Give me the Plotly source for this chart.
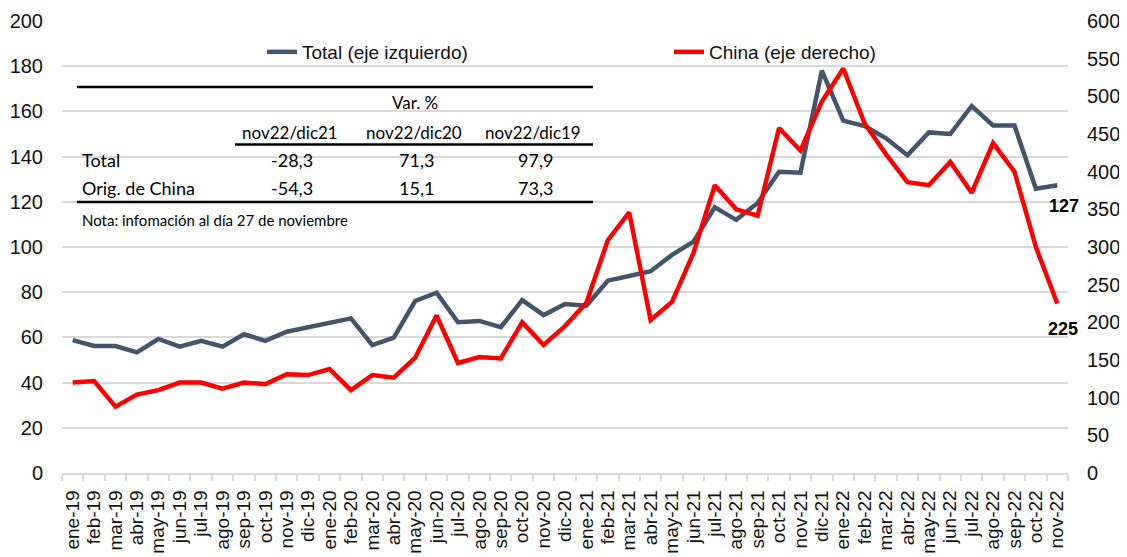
import plotly.graph_objects as go

months = ["ene-19","feb-19","mar-19","abr-19","may-19","jun-19","jul-19","ago-19","sep-19","oct-19","nov-19","dic-19",
          "ene-20","feb-20","mar-20","abr-20","may-20","jun-20","jul-20","ago-20","sep-20","oct-20","nov-20","dic-20",
          "ene-21","feb-21","mar-21","abr-21","may-21","jun-21","jul-21","ago-21","sep-21","oct-21","nov-21","dic-21",
          "ene-22","feb-22","mar-22","abr-22","may-22","jun-22","jul-22","ago-22","sep-22","oct-22","nov-22"]

total = [58.8, 56.2, 56.2, 53.4, 59.3, 55.9, 58.5, 55.9, 61.4, 58.5, 62.5, 64.4,
         66.5, 68.4, 56.6, 59.9, 76.1, 79.8, 66.7, 67.3, 64.5, 76.5, 69.9, 74.8,
         74.0, 85.1, 87.2, 89.3, 96.5, 102.4, 117.6, 112.0, 119.5, 133.3, 132.9, 178.0,
         155.9, 153.5, 148.1, 140.6, 150.7, 150.0, 162.4, 153.8, 153.8, 125.8, 127.3]

china = [120, 122, 88, 104, 110, 120, 120, 112, 120, 118, 131, 130,
         138, 110, 130, 126.5, 153, 209, 146, 154, 152, 200, 170, 195,
         226, 309, 346, 203, 227, 292, 382, 350, 341.5, 458, 428, 493,
         537, 464, 423, 386, 382, 413, 372, 438, 400, 300, 225]

total_name = "Total (eje izquierdo)"
china_name = "China (eje derecho)"

table_cols = ["nov22/dic21", "nov22/dic20", "nov22/dic19"]
table_rows = ["Total", "Orig. de China"]
table_vals = [["-28,3", "71,3", "97,9"], ["-54,3", "15,1", "73,3"]]
table_title = "Var. %"
note = "Nota: infomación al día 27 de noviembre"

# page body has an 8px margin: build the figure 8px smaller and offset everything
OFF = 8
W, H = 1127 - OFF, 557 - OFF
L, R, T, B = 62 - OFF, 1068 - OFF, 21 - OFF, 473 - OFF

def px(x):
    # x given in reference (window) pixels
    return (x - OFF - L) / (R - L)

def py(y):
    return (B - (y - OFF)) / (B - T)

TOTAL_COLOR = "#44546A"
CHINA_COLOR = "#FF0000"
GRID = "#D9D9D9"
AX_FONT = "Liberation Sans, Arial, sans-serif"
TB_FONT = "Lato, Carlito, Calibri, sans-serif"

fig = go.Figure()
fig.add_trace(go.Scatter(x=months, y=total, name=total_name, mode="lines",
                         line=dict(color=TOTAL_COLOR, width=4.5), yaxis="y"))
fig.add_trace(go.Scatter(x=months, y=china, name=china_name, mode="lines",
                         line=dict(color=CHINA_COLOR, width=4.5), yaxis="y2"))

shapes = []
# white table background covering gridlines
shapes.append(dict(type="rect", xref="paper", yref="paper", x0=px(77), x1=px(593), y0=py(232), y1=py(76),
                   fillcolor="white", line=dict(width=0), layer="between"))
# table rules
shapes.append(dict(type="line", xref="paper", yref="paper", x0=px(77), x1=px(593), y0=py(87), y1=py(87),
                   line=dict(color="black", width=2.5)))
shapes.append(dict(type="line", xref="paper", yref="paper", x0=px(235), x1=px(593), y0=py(144.5), y1=py(144.5),
                   line=dict(color="black", width=2.5)))
shapes.append(dict(type="line", xref="paper", yref="paper", x0=px(77), x1=px(593), y0=py(202), y1=py(202),
                   line=dict(color="black", width=2.5)))

ann = []
tfont = dict(family=TB_FONT, size=17, color="black")
ann.append(dict(text=table_title, x=px(415), y=py(103), xref="paper", yref="paper", showarrow=False,
                xanchor="center", yanchor="middle", font=tfont))
col_x = [290, 414, 533]
for cx, c in zip(col_x, table_cols):
    ann.append(dict(text=c, x=px(cx), y=py(132), xref="paper", yref="paper", showarrow=False,
                    xanchor="center", yanchor="middle", font=tfont))
row_y = [160, 188]
for ry, rname, vals in zip(row_y, table_rows, table_vals):
    ann.append(dict(text=rname, x=px(80), y=py(ry), xref="paper", yref="paper", showarrow=False,
                    xanchor="left", yanchor="middle", font=dict(family=TB_FONT, size=18, color="black")))
    for cx, v in zip(col_x, vals):
        ann.append(dict(text=v, x=px(cx + 2), y=py(ry), xref="paper", yref="paper", showarrow=False,
                        xanchor="center", yanchor="middle", font=dict(family=TB_FONT, size=18, color="black")))
ann.append(dict(text=note, x=px(80), y=py(220), xref="paper", yref="paper", showarrow=False,
                xanchor="left", yanchor="middle", font=dict(family=TB_FONT, size=15, color="black")))

# end labels
ann.append(dict(text="<b>%d</b>" % round(total[-1]), x=months[-1], y=total[-1], xref="x", yref="y",
                showarrow=False, xshift=7, yshift=-21,
                font=dict(family=AX_FONT, size=18, color="black")))
ann.append(dict(text="<b>%d</b>" % round(china[-1]), x=months[-1], y=china[-1], xref="x", yref="y2",
                showarrow=False, xshift=6, yshift=-25,
                font=dict(family=AX_FONT, size=18, color="black")))

fig.update_layout(
    width=W, height=H,
    margin=dict(l=L, r=W - R, t=T, b=H - B, pad=0, autoexpand=False),
    paper_bgcolor="white", plot_bgcolor="white",
    showlegend=True,
    legend=dict(orientation="h", x=px(262), y=py(52), xanchor="left", yanchor="middle",
                bgcolor="rgba(0,0,0,0)", font=dict(family=AX_FONT, size=19, color="#111"),
                entrywidthmode="pixels", entrywidth=362, itemwidth=30, tracegroupgap=0),
    xaxis=dict(type="category", categoryorder="array", categoryarray=months,
               tickmode="array", tickvals=months, ticktext=months, automargin=False,
               tickangle=-90, tickfont=dict(family=AX_FONT, size=19, color="#111"),
               showgrid=False, showline=True, linecolor=GRID, linewidth=1.5,
               ticks="outside", tickson="boundaries", ticklen=6, tickcolor=GRID, tickwidth=1.5,
               ticklabelstandoff=8, range=[-0.5, len(months) - 0.5]),
    yaxis=dict(range=[0, 200], dtick=20, showgrid=True, gridcolor=GRID, gridwidth=1.5,
               zeroline=False, showline=False, ticks="", automargin=False,
               tickfont=dict(family=AX_FONT, size=20, color="#111"), ticklabelstandoff=18),
    yaxis2=dict(range=[0, 600], dtick=50, overlaying="y", side="right", showgrid=False,
                zeroline=False, showline=False, ticks="", automargin=False,
                tickfont=dict(family=AX_FONT, size=20, color="#111"), ticklabelstandoff=18),
    shapes=shapes, annotations=ann,
)

fig.write_html("out.html")
